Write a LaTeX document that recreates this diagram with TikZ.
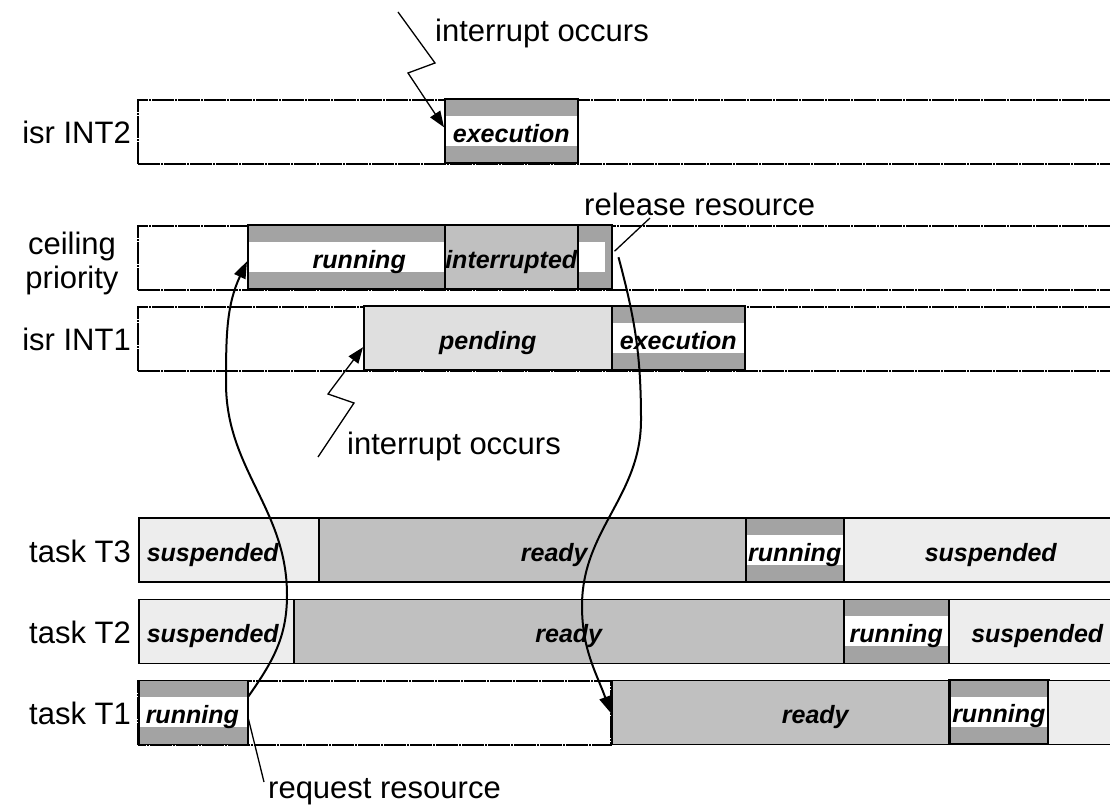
\documentclass[tikz,border=0pt]{standalone}
\usepackage{fontspec}
\setmainfont{Liberation Sans}
\usetikzlibrary{arrows.meta,positioning}

\definecolor{rungray}{HTML}{A3A3A3}
\definecolor{readygray}{HTML}{C0C0C0}
\definecolor{pendgray}{HTML}{DFDFDF}
\definecolor{suspgray}{HTML}{EDEDED}

\tikzset{
  rowlabel/.style={anchor=east, inner sep=0pt, font=\fontsize{31}{34}\selectfont},
  note/.style={anchor=base west, inner sep=0pt, font=\fontsize{31}{34}\selectfont},
  rowframe/.style={draw, line width=1.5pt, dash pattern=on 22pt off 1pt on 2pt off 1pt},
  statebox/.style={draw, line width=1.5pt, anchor=south west, inner sep=0pt,
    minimum height=64pt, text height=26pt, text depth=4pt,
    font=\fontsize{25}{27}\selectfont\bfseries\itshape},
  runbox/.style={statebox, fill=rungray, path picture={
    \fill[white] ([yshift=-15pt]path picture bounding box.west)
      rectangle ([yshift=15pt]path picture bounding box.east);}},
  holdbox/.style={statebox, fill=rungray, path picture={
    \fill[white] ([yshift=-15pt]path picture bounding box.west)
      rectangle ([xshift=-7pt,yshift=15pt]path picture bounding box.east);}},
  readybox/.style={statebox, fill=readygray},
  pendbox/.style={statebox, fill=pendgray},
  suspbox/.style={statebox, fill=suspgray},
  zigzag/.style={line width=1.3pt, -{Triangle[length=16pt,width=12pt]}},
  flow/.style={line width=2pt, -{Triangle[length=17pt,width=12pt]}},
  leader/.style={line width=1.3pt}
}

\begin{document}
\begin{tikzpicture}[x=1pt, y=1pt]
\useasboundingbox (0,0) rectangle (1110,806);
\clip (0,0) rectangle (1110,806);

% isr INT2
\node[rowlabel] (lint2) at (131,674) {isr INT2};
\draw[rowframe] (138,642) rectangle (1125,706);
\node[runbox, minimum width=133pt] (int2exec) at (444,642) {execution};

% ceiling priority
\node[rowlabel, anchor=center, align=center] (lceil) at (72,543) {ceiling\\priority};
\draw[rowframe] (138,516) rectangle (1125,580);
\node[runbox, minimum width=197pt] (ceilrun) at (247,516) {\hspace{26pt}running};
\node[readybox, minimum width=133pt] (ceilint) at (444,516) {interrupted};
\node[holdbox, minimum width=34pt] (ceilhold) at (577,516) {};

% isr INT1
\node[rowlabel] (lint1) at (131,467) {isr INT1};
\draw[rowframe] (138,435) rectangle (1125,499);
\node[pendbox, minimum width=248pt] (int1pend) at (363,435) {pending};
\node[runbox, minimum width=133pt] (int1exec) at (611,435) {execution};

% task T3
\node[rowlabel] (lt3) at (131,255) {task T3};
\node[suspbox, minimum width=180pt, text width=164pt, align=left] (t3susp) at (138,223) {suspended};
\node[readybox, minimum width=427pt] (t3ready) at (318,223) {\hspace{44pt}ready};
\node[runbox, minimum width=98pt] (t3run) at (745,223) {running};
\node[suspbox, minimum width=282pt] (t3susp2) at (843,223) {\hspace{12pt}suspended};

% task T2
\node[rowlabel] (lt2) at (131,174) {task T2};
\node[suspbox, minimum width=155pt, text width=139pt, align=left] (t2susp) at (138,142) {suspended};
\node[readybox, minimum width=550pt] (t2ready) at (293,142) {ready};
\node[runbox, minimum width=105pt] (t2run) at (843,142) {running};
\node[suspbox, minimum width=177pt] (t2susp2) at (948,142) {suspended};

% task T1
\node[rowlabel] (lt1) at (131,93) {task T1};
\draw[rowframe] (138,61) rectangle (611,125);
\node[runbox, minimum width=109pt, text width=95pt, align=left] (t1run) at (138,61) {running};
\node[readybox, minimum width=337pt] (t1ready) at (611,61) {\hspace{70pt}ready};
\node[runbox, line width=2.5pt, minimum width=99pt] (t1run2) at (948,61) {running};
\node[suspbox, minimum width=78pt] (t1rest) at (1047,61) {};

% annotations
\node[note] (irq2lab) at (435,764) {interrupt occurs};
\node[note] (irq1lab) at (347,351) {interrupt occurs};
\node[note] (rellab) at (584,590) {release resource};
\node[note] (reqlab) at (268,8) {request resource};

% interrupt arrows
\coordinate (zz2a) at (398,794);
\coordinate (zz2b) at (435,743);
\coordinate (zz2c) at (408,733);
\draw[zigzag] (zz2a) -- (zz2b) -- (zz2c) -- ([yshift=4pt]int2exec.west);
\coordinate (zz1a) at (318,349);
\coordinate (zz1b) at (354,403);
\coordinate (zz1c) at (328,412);
\draw[zigzag] (zz1a) -- (zz1b) -- (zz1c) -- ([yshift=-9pt]int1pend.west);

% resource arrows
\coordinate (req1) at (287,211);
\coordinate (req2) at (226,423);
\draw[flow] ([yshift=16pt]t1run.east) to[out=55,in=-90] (req1)
  to[out=90,in=-90] (req2) to[out=90,in=-115] ([yshift=-4pt]ceilrun.west);
\coordinate (rel1) at (641,386);
\coordinate (rel2) at (582,200);
\draw[flow] ([xshift=6pt]ceilhold.east) to[out=-75,in=90] (rel1)
  to[out=-90,in=90] (rel2) to[out=-90,in=110] ([yshift=-1pt]t1ready.west);

% leaders
\coordinate (relend) at (650,588);
\draw[leader] ([xshift=2pt,yshift=6pt]ceilhold.east) -- (relend);
\coordinate (reqend) at (264,24);
\draw[leader] ([yshift=-7pt]t1run.east) -- (reqend);
\end{tikzpicture}
\end{document}
